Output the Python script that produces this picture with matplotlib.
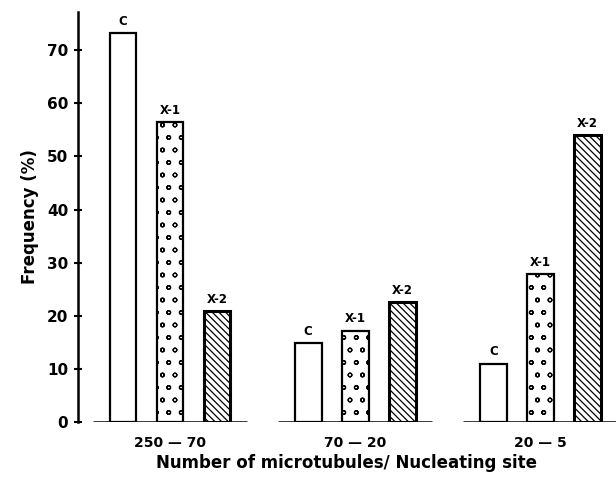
import numpy as np
import matplotlib.pyplot as plt
import matplotlib.hatch as mhatch

# data
groups = ['250 — 70', '70 — 20', '20 — 5']
series = ['C', 'X-1', 'X-2']
c_vals = [73.2, 14.9, 11.0]
x1_vals = [56.5, 17.2, 27.9]
x2_vals = [20.9, 22.6, 54.0]
yticks = [0, 10, 20, 30, 40, 50, 60, 70]

values = [c_vals, x1_vals, x2_vals]
hatches = [None, 'o', '\\\\\\\\\\']
edge_lw = [1.6, 1.6, 2.2]


# smaller, a bit sparser open circles than the stock 'o' hatch
class SparseCircles(mhatch.Circles):
    size = 0.15
    filled = False

    def __init__(self, hatch, density):
        self.num_rows = hatch.count('o') * 8
        super().__init__(hatch, density)


mhatch._hatch_types[mhatch._hatch_types.index(mhatch.SmallCircles)] = SparseCircles

plt.rcParams['font.family'] = 'DejaVu Sans'
plt.rcParams['font.weight'] = 'bold'
plt.rcParams['axes.labelweight'] = 'bold'
plt.rcParams['hatch.linewidth'] = 0.9

fig = plt.figure(figsize=(6.16, 4.82), dpi=100)
ax = fig.add_axes([0.1266, 0.1245, 0.8734, 0.8505])

group_gap = 3.94
centers = np.arange(len(groups)) * group_gap
width = 0.57

for i, (name, vals) in enumerate(zip(series, values)):
    xs = centers + (i - 1)
    ax.bar(xs, vals, width=width, color='white', edgecolor='black',
           linewidth=edge_lw[i], hatch=hatches[i], zorder=2)
    for x, v in zip(xs, vals):
        ax.text(x, v + 1.0, name, ha='center', va='bottom', fontsize=8.5)

# separate baseline under each group
for c in centers:
    ax.hlines(0, c - 1.64, c + 1.64, color='black', linewidth=1.8, zorder=3)

ax.set_xlim(-1.96, 9.49)
ax.set_ylim(0, 77.2)
ax.set_yticks(yticks)
ax.set_xticks(centers)
ax.set_xticklabels(groups, fontsize=10)
ax.tick_params(axis='x', length=0, pad=10)
ax.tick_params(axis='y', direction='inout', length=6, width=1.5, labelsize=11, pad=4)

for s in ['top', 'right', 'bottom']:
    ax.spines[s].set_visible(False)
ax.spines['left'].set_linewidth(1.8)

ax.set_ylabel('Frequency (%)', fontsize=12, labelpad=6)
ax.set_xlabel('Number of microtubules/ Nucleating site', fontsize=12, labelpad=3)

plt.savefig('out.png', dpi=100)
